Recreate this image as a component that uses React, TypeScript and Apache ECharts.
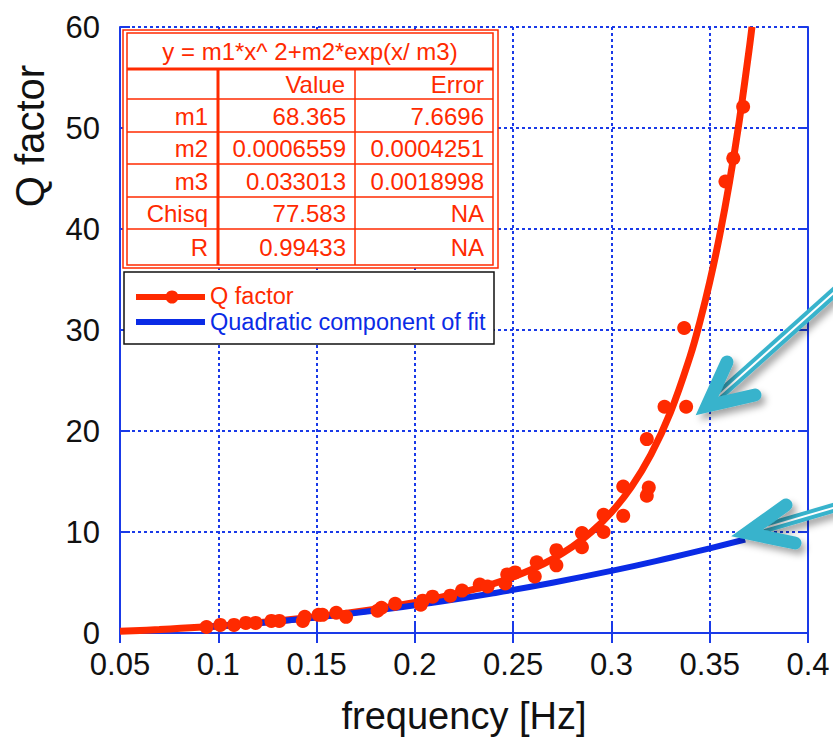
import React, { useEffect, useRef } from "react";
import * as echarts from "echarts";

// ---- Data ----
const fitX = [0.05, 0.07, 0.09, 0.11, 0.13, 0.15, 0.17, 0.19, 0.21, 0.23, 0.24, 0.25, 0.26, 0.27, 0.28, 0.29, 0.30, 0.31, 0.32, 0.33, 0.34, 0.345, 0.35, 0.355, 0.36, 0.365, 0.37, 0.3715];
const fitY = [0.17, 0.34, 0.56, 0.85, 1.19, 1.6, 2.09, 2.68, 3.4, 4.31, 4.88, 5.55, 6.35, 7.32, 8.52, 10.03, 11.96, 14.42, 17.63, 21.84, 27.38, 30.81, 34.75, 39.3, 44.56, 50.65, 57.7, 60.02];

const quadX = [0.094, 0.12, 0.15, 0.18, 0.21, 0.24, 0.27, 0.3, 0.33, 0.35, 0.368];
const quadY = [0.6, 0.98, 1.54, 2.22, 3.02, 3.94, 4.98, 6.15, 7.45, 8.38, 9.26];

const dataX = [0.094, 0.101, 0.108, 0.114, 0.119, 0.127, 0.131, 0.143, 0.144, 0.151, 0.153, 0.16, 0.165, 0.181, 0.183, 0.19, 0.203, 0.204, 0.209, 0.218, 0.224, 0.233, 0.237, 0.246, 0.247, 0.251, 0.261, 0.262, 0.272, 0.272, 0.285, 0.285, 0.296, 0.296, 0.306, 0.306, 0.318, 0.319, 0.318, 0.327, 0.337, 0.338, 0.358, 0.362, 0.367];
const dataY = [0.6, 0.8, 0.8, 1.0, 1.0, 1.2, 1.2, 1.2, 1.6, 1.8, 1.8, 2.0, 1.6, 2.2, 2.5, 2.9, 2.8, 3.2, 3.6, 3.7, 4.2, 4.8, 4.6, 4.9, 5.8, 6.0, 5.6, 7.0, 6.7, 8.2, 8.5, 9.9, 10.0, 11.7, 11.6, 14.5, 13.6, 14.4, 19.2, 22.4, 30.2, 22.4, 44.7, 47.0, 52.1];

const formula = "y = m1*x^ 2+m2*exp(x/ m3)";
const tableHeader = ["", "Value", "Error"];
const tableLabels = ["m1", "m2", "m3", "Chisq", "R"];
const tableValues = ["68.365", "0.0006559", "0.033013", "77.583", "0.99433"];
const tableErrors = ["7.6696", "0.0004251", "0.0018998", "NA", "NA"];
const legendNames = ["Q factor", "Quadratic component of fit"];
const xName = "frequency [Hz]";
const yName = "Q factor";

const RED = "#ff2a00";
const BLUE = "#0a2be6";
const AXIS = "#1a3ae8";
const CYAN = "#38b3cc";
const FONT = "'Liberation Sans', Arial, Helvetica, sans-serif";

function txt(text: string, x: number, y: number, color: string, size: number, align: string, extra: any = {}) {
  return {
    type: "text",
    x,
    y,
    z: 110,
    ...extra,
    style: {
      text,
      x: 0,
      y: 0,
      fill: color,
      font: `${size}px ${FONT}`,
      align,
      verticalAlign: "middle",
      textAlign: align,
      textVerticalAlign: "middle",
    },
  };
}

function ln(x1: number, y1: number, x2: number, y2: number, color: string, w: number) {
  return { type: "line", z: 105, shape: { x1, y1, x2, y2 }, style: { stroke: color, lineWidth: w } };
}

function arrow(tip: number[], b1: number[], b2: number[], tail: number[], start: number[]) {
  const shadow = { shadowBlur: 7, shadowOffsetX: 4, shadowOffsetY: 5, shadowColor: "rgba(0,0,0,0.35)" };
  return [
    { type: "polyline", z: 120, shape: { points: [start, tail] }, style: { stroke: CYAN, lineWidth: 10, fill: "none", lineCap: "butt", ...shadow } },
    { type: "polyline", z: 121, shape: { points: [start, tail] }, style: { stroke: "#ffffff", lineWidth: 2, fill: "none" } },
    { type: "polyline", z: 122, shape: { points: [b1, tip, b2] }, style: { stroke: CYAN, lineWidth: 13, fill: "none", lineCap: "round", lineJoin: "miter", miterLimit: 6, ...shadow } },
  ];
}

export default function App() {
  const ref = useRef<HTMLDivElement>(null);
  useEffect(() => {
    if (!ref.current) return;
    const chart = echarts.init(ref.current, undefined, { renderer: "svg" });

    const rowYs = [84, 116, 148, 181, 213, 247];
    const graphics: any[] = [];
    // table
    graphics.push({ type: "rect", z: 100, shape: { x: 123, y: 30, width: 375, height: 238 }, style: { fill: "#fff", stroke: RED, lineWidth: 1.5 } });
    graphics.push({ type: "rect", z: 101, shape: { x: 127, y: 33, width: 366, height: 232 }, style: { fill: "none", stroke: RED, lineWidth: 1.5 } });
    graphics.push(ln(127, 69, 493, 69, RED, 3));
    [99, 132, 164, 197, 229].forEach((y) => graphics.push(ln(127, y, 493, y, RED, 1.5)));
    graphics.push(ln(218, 69, 218, 265, RED, 3));
    graphics.push(ln(355, 69, 355, 265, RED, 1.5));
    graphics.push(txt(formula, 310, 51, RED, 24, "center"));
    graphics.push(txt(tableHeader[1], 345, rowYs[0], RED, 24, "right"));
    graphics.push(txt(tableHeader[2], 484, rowYs[0], RED, 24, "right"));
    tableLabels.forEach((l, i) => {
      graphics.push(txt(l, 208, rowYs[i + 1], RED, 24, "right"));
      graphics.push(txt(tableValues[i], 346, rowYs[i + 1], RED, 24, "right"));
      graphics.push(txt(tableErrors[i], 484, rowYs[i + 1], RED, 24, "right"));
    });
    // legend
    graphics.push({ type: "rect", z: 100, shape: { x: 124, y: 272, width: 370, height: 72 }, style: { fill: "#fff", stroke: "#111", lineWidth: 1.5 } });
    graphics.push(ln(136, 297, 205, 297, RED, 6));
    graphics.push({ type: "circle", z: 106, shape: { cx: 172, cy: 297, r: 6.5 }, style: { fill: RED } });
    graphics.push(txt(legendNames[0], 210, 296, RED, 23.5, "left"));
    graphics.push(ln(136, 322, 205, 322, BLUE, 6));
    graphics.push(txt(legendNames[1], 210, 322, BLUE, 23.5, "left"));
    // y axis name
    graphics.push(txt(yName, 30, 136, "#111", 40, "center", { rotation: Math.PI / 2 }));
    // arrows
    graphics.push(...arrow([707, 406], [727, 362], [755, 395], [848, 280], [716, 398]));
    graphics.push(...arrow([747, 533], [786, 505], [795, 543], [850, 503], [758, 530]));

    const axisCommon = {
      type: "value" as const,
      axisLine: { show: true, lineStyle: { color: AXIS, width: 2 } },
      axisTick: { show: true, inside: true, length: 10, lineStyle: { color: AXIS, width: 2 } },
    };

    chart.setOption({
      animation: false,
      backgroundColor: "#ffffff",
      grid: { left: 120, right: 25, top: 27, bottom: 106, containLabel: false },
      xAxis: [
        {
          ...axisCommon,
          position: "bottom",
          min: 0.05,
          max: 0.4,
          interval: 0.05,
          name: xName,
          nameLocation: "middle",
          nameGap: 64,
          nameTextStyle: { color: "#111", fontSize: 38, fontFamily: FONT },
          axisLabel: {
            color: "#111",
            fontSize: 31,
            fontFamily: FONT,
            margin: 16,
            formatter: (v: number) => String(+v.toFixed(2)),
          },
          splitLine: { show: true, lineStyle: { color: AXIS, width: 2, type: [3, 3] } },
        },
        {
          ...axisCommon,
          position: "top",
          min: 0.05,
          max: 0.4,
          interval: 0.05,
          axisLabel: { show: false },
          splitLine: { show: false },
        },
      ],
      yAxis: [
        {
          ...axisCommon,
          position: "left",
          min: 0,
          max: 60,
          interval: 10,
          axisLabel: { color: "#111", fontSize: 31, fontFamily: FONT, margin: 20, verticalAlign: "bottom", lineHeight: 24, padding: [0, 0, -12, 0] },
          splitLine: { show: true, lineStyle: { color: AXIS, width: 2, type: [3, 3] } },
        },
        {
          ...axisCommon,
          position: "right",
          min: 0,
          max: 60,
          interval: 10,
          axisLabel: { show: false },
          splitLine: { show: false },
        },
      ],
      series: [
        {
          name: "fit",
          type: "line",
          data: fitX.map((x, i) => [x, fitY[i]]),
          smooth: 0.4,
          symbol: "none",
          lineStyle: { color: RED, width: 7 },
          z: 3,
        },
        {
          name: legendNames[1],
          type: "line",
          data: quadX.map((x, i) => [x, quadY[i]]),
          smooth: true,
          symbol: "none",
          lineStyle: { color: BLUE, width: 6 },
          z: 4,
        },
        {
          name: legendNames[0],
          type: "scatter",
          data: dataX.map((x, i) => [x, dataY[i]]),
          symbol: "circle",
          symbolSize: 14,
          itemStyle: { color: RED, opacity: 1 },
          z: 5,
        },
      ],
      graphic: graphics,
    });
    return () => chart.dispose();
  }, []);
  return <div ref={ref} style={{ position: "absolute", left: 0, top: 0, width: 833, height: 740 }} />;
}
